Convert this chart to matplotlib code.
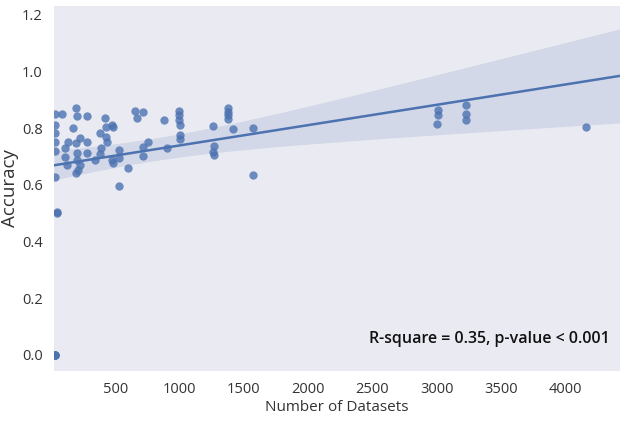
import numpy as np
import matplotlib
matplotlib.use('Agg')
import matplotlib.pyplot as plt

# number of datasets vs accuracy
n_datasets = [35, 35, 35, 35, 35, 35,
              86, 194, 202, 280, 171, 109, 132, 194, 225, 280, 280,
              109, 124, 202, 202, 225, 194, 210, 342, 381, 389, 381,
              420, 428, 428, 435, 474, 482, 474, 482, 529, 529, 529,
              599, 653, 669, 715, 715, 715, 754, 879, 902,
              995, 995, 995, 1003, 1003, 1003,
              1260, 1268, 1260, 1268, 1376, 1376, 1376, 1376, 1415,
              1571, 1571, 3002, 3009, 3009, 3227, 3227, 3227, 4160]
accuracy = [0.852, 0.813, 0.784, 0.753, 0.721, 0.629,
            0.852, 0.873, 0.845, 0.845, 0.802, 0.731, 0.753, 0.749, 0.767, 0.753, 0.714,
            0.700, 0.671, 0.714, 0.689, 0.671, 0.643, 0.654, 0.689, 0.784, 0.731, 0.710,
            0.837, 0.806, 0.770, 0.753, 0.813, 0.806, 0.689, 0.678, 0.724, 0.696, 0.597,
            0.661, 0.862, 0.837, 0.859, 0.735, 0.703, 0.753, 0.830, 0.731,
            0.862, 0.848, 0.830, 0.813, 0.777, 0.763,
            0.809, 0.739, 0.717, 0.707, 0.873, 0.859, 0.848, 0.834, 0.799,
            0.802, 0.636, 0.816, 0.848, 0.866, 0.883, 0.852, 0.830, 0.806]
# stacked low results at the smallest dataset sizes
low_x = [45, 45, 30, 30, 30, 30]
low_y = [0.505, 0.500, 0.0, 0.0, 0.0, 0.0]

x = np.array(n_datasets + low_x, dtype=float)
y = np.array(accuracy + low_y, dtype=float)

blue = '#4C72B0'
plt.rcParams['font.family'] = ['Open Sans', 'DejaVu Sans']

fig = plt.figure(figsize=(6.2, 4.22), dpi=100)
ax = fig.add_axes([0.087, 0.121, 0.913, 0.865])
ax.set_facecolor('#EAEAF2')
for s in ax.spines.values():
    s.set_visible(False)

xlim = (23, 4425)
ax.set_xlim(xlim)
ax.set_ylim(-0.057, 1.232)

ax.scatter(x, y, s=36, color=blue, alpha=0.8, linewidths=0, zorder=3)

# linear fit with 95% confidence band
n = len(x)
b, a = np.polyfit(x, y, 1)
xs = np.linspace(xlim[0], xlim[1], 200)
ys = a + b * xs
resid = y - (a + b * x)
s_err = np.sqrt(np.sum(resid ** 2) / (n - 2))
sxx = np.sum((x - x.mean()) ** 2)
half = 1.99 * s_err * np.sqrt(1.0 / n + (xs - x.mean()) ** 2 / sxx)
ax.fill_between(xs, ys - half, ys + half, color=blue, alpha=0.15, linewidth=0, zorder=2)
ax.plot(xs, ys, color=blue, lw=1.8, zorder=4)

ax.set_xticks([500, 1000, 1500, 2000, 2500, 3000, 3500, 4000])
ax.set_yticks([0.0, 0.2, 0.4, 0.6, 0.8, 1.0, 1.2])
ax.tick_params(length=0, labelsize=10.5, colors='#333333', pad=8)
ax.set_xlabel('Number of Datasets', fontsize=11, color='#333333', labelpad=2)
ax.set_ylabel('Accuracy', fontsize=13.5, color='#333333')
ax.yaxis.set_label_coords(-0.062, 0.5)

ax.text(0.982, 0.088, 'R-square = 0.35, p-value < 0.001', transform=ax.transAxes,
        ha='right', va='center', fontsize=11.5, fontweight='semibold', color='#111111')

fig.savefig('out.png', dpi=100)
